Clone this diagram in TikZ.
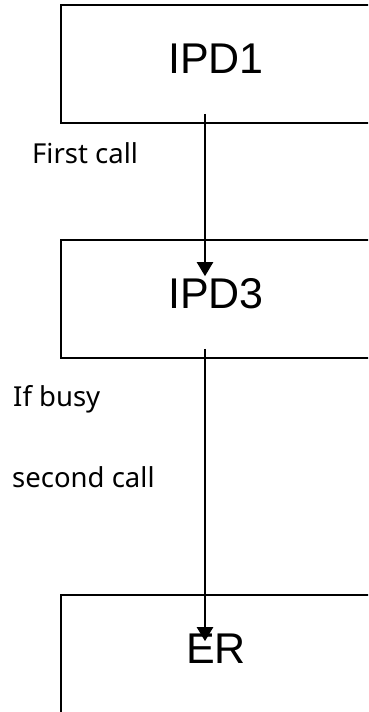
\documentclass[tikz,border=0pt]{standalone}
\usepackage{fontspec}
\setmainfont{Liberation Sans}
\newfontfamily\labelfont{Noto Sans}
\usetikzlibrary{arrows.meta}
\begin{document}
\begin{tikzpicture}[x=1pt,y=-1pt,
  boxnode/.style={draw=black, line width=1.6pt, rectangle, minimum width=310pt, minimum height=118pt,
    inner sep=0pt, text height=31pt, text depth=13pt, font=\fontsize{43}{50}\selectfont},
  conn/.style={draw=black, line width=2.2pt, -{Triangle[width=16pt,length=14pt]}},
  lbl/.style={anchor=base west, inner sep=0pt, font=\labelfont\fontsize{27.5}{33}\selectfont}]
\useasboundingbox (0,0) rectangle (368,712);
\clip (0,0) rectangle (368,712);
\node[boxnode] (ipd1) at (216,64) {IPD1};
\node[boxnode] (ipd3) at (216,299) {IPD3};
\node[boxnode] (er) at (216,654) {ER};
\draw[conn] ([xshift=-11pt,yshift=10pt]ipd1.south) -- ([xshift=-11pt,yshift=-37pt]ipd3.north);
\draw[conn] ([xshift=-11pt,yshift=10pt]ipd3.south) -- ([xshift=-11pt,yshift=-47pt]er.north);
\node[lbl] (lab1) at (32,163) {First call};
\node[lbl] (lab2) at (13,406) {If busy};
\node[lbl] (lab3) at (12,487) {second call};
\end{tikzpicture}
\end{document}
